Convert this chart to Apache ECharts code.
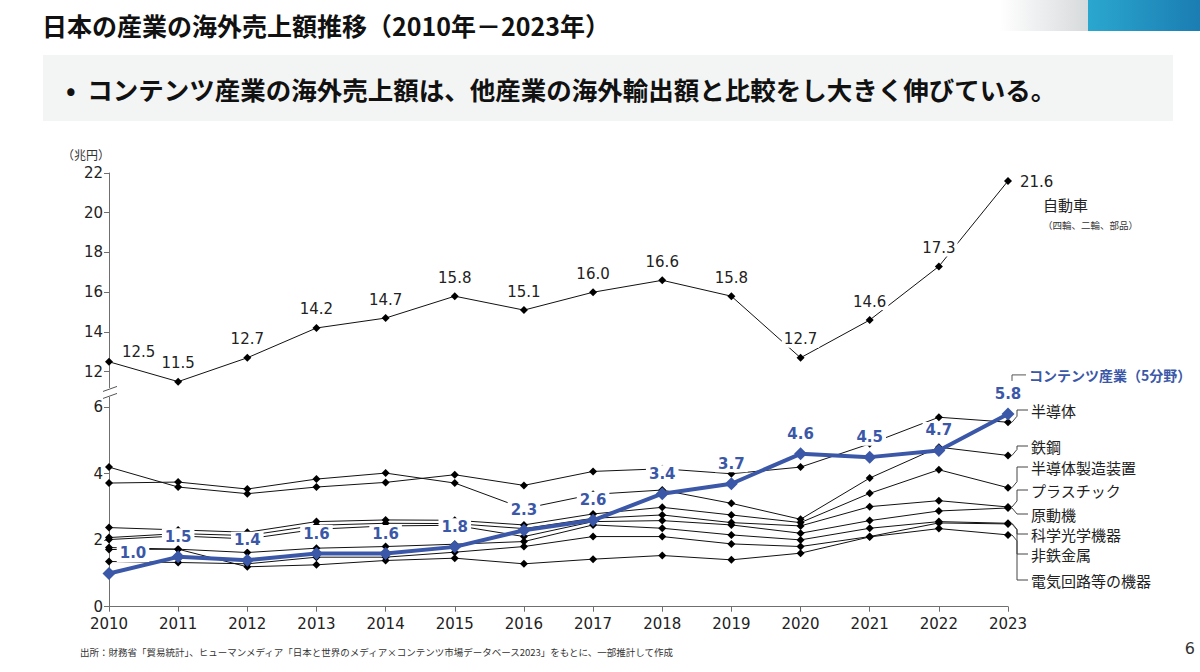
<!DOCTYPE html>
<html><head><meta charset="utf-8">
<script src="https://cdn.jsdelivr.net/npm/echarts@6/dist/echarts.min.js"></script>
<style>
html,body{margin:0;padding:0;background:#fff;}
#c{width:1200px;height:672px;}
</style></head><body><div id="c"></div>
<script>
// ---- data ----
const years = ['2010','2011','2012','2013','2014','2015','2016','2017','2018','2019','2020','2021','2022','2023'];
const autoValues = [12.5, 11.5, 12.7, 14.2, 14.7, 15.8, 15.1, 16.0, 16.6, 15.8, 12.7, 14.6, 17.3, 21.6];
const contentsValues = [1.0, 1.5, 1.4, 1.6, 1.6, 1.8, 2.3, 2.6, 3.4, 3.7, 4.6, 4.5, 4.7, 5.8];
const semiconductor = [4.20, 3.60, 3.40, 3.60, 3.74, 3.97, 3.65, 4.07, 4.15, 4.00, 4.20, 4.90, 5.70, 5.55];
const steel = [3.72, 3.75, 3.54, 3.84, 4.02, 3.72, 2.95, 3.38, 3.51, 3.11, 2.63, 3.87, 4.80, 4.55];
const semiEquipment = [2.38, 2.31, 2.24, 2.56, 2.61, 2.60, 2.46, 2.79, 2.99, 2.76, 2.53, 3.41, 4.12, 3.58];
const plastics = [2.08, 2.20, 2.14, 2.45, 2.51, 2.50, 2.35, 2.66, 2.76, 2.53, 2.43, 3.01, 3.19, 3.00];
const engines = [2.02, 2.13, 2.04, 2.33, 2.43, 2.45, 2.11, 2.56, 2.59, 2.46, 2.21, 2.59, 2.88, 2.97];
const opticalInstruments = [1.78, 1.73, 1.63, 1.76, 1.81, 1.88, 1.96, 2.46, 2.36, 2.16, 2.01, 2.36, 2.56, 2.51];
const nonFerrous = [1.36, 1.33, 1.29, 1.49, 1.49, 1.64, 1.81, 2.11, 2.11, 1.89, 1.81, 2.11, 2.52, 2.49];
const electricCircuits = [1.72, 1.73, 1.20, 1.26, 1.39, 1.46, 1.29, 1.43, 1.54, 1.41, 1.61, 2.10, 2.35, 2.16];
const upperTicks = [12, 14, 16, 18, 20, 22];
const lowerTicks = [0, 2, 4, 6];
const blackNames = ['半導体','鉄鋼','半導体製造装置','プラスチック','原動機','科学光学機器','非鉄金属','電気回路等の機器'];
const blackData = [semiconductor, steel, semiEquipment, plastics, engines, opticalInstruments, nonFerrous, electricCircuits];
const contentsName = 'コンテンツ産業（5分野）';
const autoName = '自動車';
const autoNote = '（四輪、二輪、部品）';
const titleText = '日本の産業の海外売上額推移（2010年－2023年）';
const bulletText = '•  コンテンツ産業の海外売上額は、他産業の海外輸出額と比較をし大きく伸びている。';
const unitText = '（兆円）';
const sourceText = '出所：財務省「貿易統計」、ヒューマンメディア「日本と世界のメディア×コンテンツ市場データベース2023」をもとに、一部推計して作成';
const pageNo = '6';

// ---- layout / style ----
const JP = '"Noto Sans CJK JP", "Noto Sans", sans-serif';
const NUM = '"DejaVu Sans", Verdana, sans-serif';
const BLUE = '#3B58A8';
const endLabelY = [410, 446, 467, 490, 514, 534, 554, 580];

const chart = echarts.init(document.getElementById('c'), null, {renderer: 'svg', width: 1200, height: 672});

const blackSeries = blackNames.map((n, k) => ({
  name: n, type: 'line', xAxisIndex: 1, yAxisIndex: 1, data: blackData[k],
  symbol: 'diamond', symbolSize: 8, showAllSymbol: true,
  lineStyle: {color: '#111', width: 1}, itemStyle: {color: '#000'},
  z: 2, animation: false
}));

const contentsSeries = {
  name: contentsName, type: 'line', xAxisIndex: 1, yAxisIndex: 1,
  data: contentsValues.map((v, i) => i === 0 ? {value: v, label: {offset: [24, 0]}} : v),
  symbol: 'diamond', symbolSize: 13, showAllSymbol: true,
  lineStyle: {color: BLUE, width: 4}, itemStyle: {color: BLUE},
  label: {show: true, position: 'top', distance: 5, fontFamily: NUM, fontWeight: 'bold', fontSize: 15,
    color: BLUE, backgroundColor: '#fff', padding: [1, 3], formatter: p => p.value.toFixed(1)},
  z: 6, animation: false
};

const autoSeries = {
  name: autoName, type: 'line', xAxisIndex: 0, yAxisIndex: 0,
  data: autoValues.map((v, i) => {
    if (i === 0) return {value: v, label: {position: 'right', distance: 7, offset: [0, -10]}};
    if (i === autoValues.length - 1) return {value: v, label: {position: 'right', distance: 6, offset: [0, 1]}};
    return v;
  }),
  symbol: 'diamond', symbolSize: 8, showAllSymbol: true,
  lineStyle: {color: '#111', width: 1}, itemStyle: {color: '#000'},
  label: {show: true, position: 'top', distance: 6, fontFamily: NUM, fontSize: 15, color: '#222',
    backgroundColor: '#fff', padding: [1, 2], formatter: p => p.value.toFixed(1)},
  z: 3, animation: false
};

const axisLineStyle = {color: '#6f6f6f', width: 1};
const option = {
  animation: false,
  backgroundColor: '#fff',
  grid: [
    {left: 109, right: 192, top: 173, height: 214.6},
    {left: 109, right: 192, top: 397.3, bottom: 65.3}
  ],
  xAxis: [
    {gridIndex: 0, type: 'category', data: years, boundaryGap: false, show: false},
    {gridIndex: 1, type: 'category', data: years, boundaryGap: false,
      axisLine: {lineStyle: axisLineStyle}, axisTick: {alignWithLabel: true, length: 5, lineStyle: axisLineStyle},
      axisLabel: {fontFamily: NUM, fontSize: 15, color: '#222', margin: 10}}
  ],
  yAxis: [
    {gridIndex: 0, type: 'value', min: 11.2, max: 22,
      axisLine: {show: true, lineStyle: axisLineStyle},
      axisTick: {show: true, length: 5, lineStyle: axisLineStyle, customValues: upperTicks},
      axisLabel: {fontFamily: NUM, fontSize: 15, color: '#222', margin: 6, customValues: upperTicks},
      splitLine: {show: false}},
    {gridIndex: 1, type: 'value', min: 0, max: 6.3,
      axisLine: {show: true, lineStyle: axisLineStyle},
      axisTick: {show: true, length: 5, lineStyle: axisLineStyle, customValues: lowerTicks},
      axisLabel: {fontFamily: NUM, fontSize: 15, color: '#222', margin: 6, customValues: lowerTicks},
      splitLine: {show: false}}
  ],
  series: [...blackSeries, contentsSeries, autoSeries]
};
chart.setOption(option);

// ---- decorations computed from the chart's own scales ----
const P = (g, i, v) => chart.convertToPixel({xAxisIndex: g, yAxisIndex: g}, [i, v]);
const last = years.length - 1;
const g = [];

// header
g.push({type: 'rect', shape: {x: 1000, y: 0, width: 90, height: 31}, z: 0,
  style: {fill: new echarts.graphic.LinearGradient(0, 0, 1, 0, [{offset: 0, color: 'rgba(255,255,255,1)'}, {offset: 1, color: '#d6d9db'}])}});
g.push({type: 'rect', shape: {x: 1088, y: 0, width: 112, height: 31}, z: 0,
  style: {fill: new echarts.graphic.LinearGradient(0, 0, 1, 0, [{offset: 0, color: '#2aa7cf'}, {offset: 1, color: '#1b7db3'}])}});
g.push({type: 'text', x: 42, y: 25, z: 10, style: {text: titleText, fontFamily: JP, fontWeight: 'bold', fontSize: 25, fill: '#111', verticalAlign: 'middle'}});
g.push({type: 'rect', shape: {x: 43, y: 55, width: 1130, height: 66}, z: 0, style: {fill: '#f3f4f4'}});
g.push({type: 'text', x: 66, y: 88, z: 10, style: {text: bulletText, fontFamily: JP, fontWeight: 'bold', fontSize: 25.5, fill: '#111', verticalAlign: 'middle'}});
g.push({type: 'text', x: 110, y: 154, z: 10, style: {text: unitText, fontFamily: JP, fontSize: 12, fill: '#333', align: 'right', verticalAlign: 'middle'}});
g.push({type: 'text', x: 80, y: 652, z: 10, style: {text: sourceText, fontFamily: JP, fontSize: 9.5, fill: '#333', verticalAlign: 'middle'}});
g.push({type: 'text', x: 1195, y: 648, z: 10, style: {text: pageNo, fontFamily: NUM, fontSize: 16, fill: '#333', align: 'right', verticalAlign: 'middle'}});

// axis break marks
const upBottom = P(0, 0, 11.2);
const lowTop = P(1, 0, 6.3);
const bx = upBottom[0];
const midY = (upBottom[1] + lowTop[1]) / 2;
g.push({type: 'rect', shape: {x: bx - 8, y: midY - 4, width: 16, height: 8}, z: 8, style: {fill: '#fff'}});
g.push({type: 'line', z: 9, shape: {x1: bx - 6, y1: midY - 1, x2: bx + 8, y2: midY - 6}, style: {stroke: '#555', lineWidth: 1}});
g.push({type: 'line', z: 9, shape: {x1: bx - 6, y1: midY + 6, x2: bx + 8, y2: midY + 1}, style: {stroke: '#555', lineWidth: 1}});

// auto end label
const aEnd = P(0, last, autoValues[last]);
g.push({type: 'text', x: aEnd[0] + 35, y: aEnd[1] + 24, z: 10, style: {text: autoName, fontFamily: JP, fontSize: 15, fill: '#222', verticalAlign: 'middle'}});
g.push({type: 'text', x: aEnd[0] + 35, y: aEnd[1] + 44, z: 10, style: {text: autoNote, fontFamily: JP, fontSize: 9.5, fill: '#333', verticalAlign: 'middle'}});

// contents end label
const cEnd = P(1, last, contentsValues[last]);
const cY = cEnd[1] - 39;
g.push({type: 'polyline', z: 9, shape: {points: [[cEnd[0] + 4, cY + 6], [cEnd[0] + 4, cY], [cEnd[0] + 18, cY]]}, style: {stroke: '#555', lineWidth: 1, fill: null}});
g.push({type: 'text', x: cEnd[0] + 21, y: cY, z: 10, style: {text: contentsName, fontFamily: JP, fontWeight: 'bold', fontSize: 14, fill: BLUE, verticalAlign: 'middle'}});

// black series end labels with leaders
blackNames.forEach((n, k) => {
  const e = P(1, last, blackData[k][last]);
  const ty = endLabelY[k];
  const vx = e[0] + 9;
  const d = ty - e[1];
  const step = Math.sign(d) * Math.min(Math.abs(d), 6);
  g.push({type: 'polyline', z: 9, shape: {points: [[e[0] + 4, e[1]], [vx, e[1] + step], [vx, ty], [vx + 11, ty]]},
    style: {stroke: '#444', lineWidth: 1, fill: null}});
  g.push({type: 'text', x: vx + 14, y: ty, z: 10, style: {text: n, fontFamily: JP, fontSize: 15, fill: '#222', verticalAlign: 'middle'}});
});

chart.setOption({graphic: {elements: g}});
</script>
</body></html>
